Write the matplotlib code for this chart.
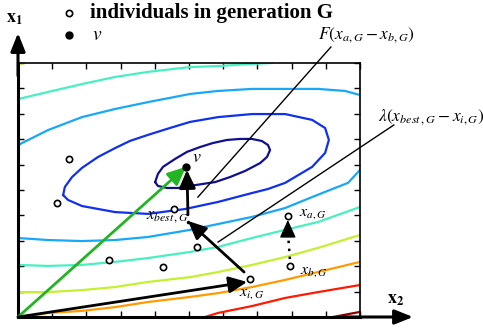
import matplotlib
# no display in the sandbox
matplotlib.use('agg')
import matplotlib.pyplot as plt

plt.rcParams['mathtext.fontset'] = 'stix'
plt.rcParams['font.family'] = 'Liberation Serif'

# contour lines of the fitness landscape (x2, x1)
navy_x = [4.01, 4.09, 4.24, 4.59, 4.94, 5.32, 5.70, 6.11, 6.49, 6.84, 7.13, 7.31,
          7.37, 7.28, 7.08, 6.64, 6.20, 5.76, 5.41, 5.03, 4.68, 4.36, 4.09, 4.01]
navy_y = [5.31, 5.63, 5.91, 6.22, 6.50, 6.69, 6.85, 6.97, 7.01, 7.01, 6.93, 6.77,
          6.57, 6.30, 6.06, 5.75, 5.51, 5.31, 5.24, 5.16, 5.08, 5.08, 5.16, 5.31]
blue_x = [1.32, 1.37, 1.58, 1.87, 2.34, 2.84, 3.27, 3.80, 4.44, 5.03, 5.85, 6.84, 7.81, 8.60,
          8.98, 9.09, 8.98, 8.60, 7.81, 7.31, 6.84, 5.85, 4.88, 3.80, 2.84, 1.87, 1.46, 1.32]
blue_y = [4.80, 5.12, 5.51, 5.87, 6.30, 6.65, 6.93, 7.17, 7.44, 7.68, 7.87, 7.99, 7.99, 7.76,
          7.44, 6.97, 6.46, 5.91, 5.28, 5.04, 4.88, 4.53, 4.25, 4.06, 4.13, 4.37, 4.61, 4.80]
sky_top_x = [0, 0.88, 1.87, 2.84, 3.80, 5.03, 5.85, 6.84, 7.81, 8.77, 9.56, 10]
sky_top_y = [6.77, 7.36, 7.87, 8.19, 8.46, 8.78, 8.90, 8.98, 8.98, 8.98, 8.90, 8.74]
sky_low_x = [0, 0.88, 1.87, 2.84, 3.80, 5.03, 5.85, 6.84, 7.81, 8.54, 9.12, 9.65, 10]
sky_low_y = [3.11, 3.03, 2.99, 3.03, 3.15, 3.43, 3.66, 3.94, 4.29, 4.69, 5.00, 5.28, 5.79]
aqua_top_x = [0, 0.88, 1.87, 2.84, 3.80, 5.03, 5.85, 6.78, 7.43]
aqua_top_y = [8.58, 8.86, 9.17, 9.45, 9.65, 9.84, 9.88, 9.96, 10]
aqua_low_x = [0, 0.88, 1.87, 2.84, 3.80, 5.03, 5.85, 6.84, 7.81, 8.77, 9.50, 10]
aqua_low_y = [2.05, 2.01, 2.05, 2.17, 2.32, 2.56, 2.76, 3.11, 3.43, 3.74, 4.09, 4.33]
lime_top_x = [0, 0.15]
lime_top_y = [9.94, 10]
lime_low_x = [0, 0.88, 1.87, 2.84, 3.80, 5.03, 5.85, 6.84, 7.81, 8.77, 10]
lime_low_y = [0.98, 0.98, 1.06, 1.18, 1.38, 1.57, 1.77, 2.05, 2.36, 2.72, 3.23]
orange_x = [0.20, 0.88, 1.87, 2.84, 3.80, 5.03, 5.85, 6.84, 7.81, 8.77, 10]
orange_y = [0, 0.16, 0.24, 0.39, 0.59, 0.79, 0.94, 1.18, 1.46, 1.77, 2.17]
red_x = [5.47, 5.85, 6.84, 7.81, 8.77, 10]
red_y = [0, 0.16, 0.43, 0.75, 0.98, 1.26]
darkred_x = [9.21, 10]
darkred_y = [0, 0.20]

# individuals of generation G (open circles): 6 others, then x_i, x_a, x_b
ind_x = [1.49, 1.14, 4.56, 5.23, 2.66, 4.24, 6.78, 7.89, 7.95]
ind_y = [6.22, 4.49, 4.25, 2.76, 2.24, 1.97, 1.50, 3.98, 2.01]
x_i = (6.78, 1.50)
x_a = (7.89, 3.98)
x_b = (7.95, 2.01)
x_best = (4.97, 3.74)
v = (4.91, 5.91)

HEAD = '-|>,head_length=0.55,head_width=0.25'


def arrow(ax, start, end, color='k', lw=2.0, head=HEAD):
    """
    Draw an arrow from start to end in data coordinates
    """
    ax.annotate('', xy=end, xytext=start, annotation_clip=False,
                arrowprops=dict(arrowstyle=head, color=color, lw=lw,
                                mutation_scale=20, shrinkA=0, shrinkB=0))


def draw_chart(plot_name):
    fig = plt.figure(figsize=(4.83, 3.28), dpi=100)
    ax = fig.add_axes([18 / 483, 11 / 328, 342 / 483, 254 / 328])
    ax.set_xlim(0, 10)
    ax.set_ylim(0, 10)

    curves = [
        (navy_x, navy_y, '#10108f'), (blue_x, blue_y, '#1030f0'),
        (sky_top_x, sky_top_y, '#18a8f8'), (sky_low_x, sky_low_y, '#18a8f8'),
        (aqua_top_x, aqua_top_y, '#48f0c0'), (aqua_low_x, aqua_low_y, '#48f0c0'),
        (lime_top_x, lime_top_y, '#c4f030'), (lime_low_x, lime_low_y, '#c4f030'),
        (orange_x, orange_y, '#ff9a00'), (red_x, red_y, '#ff1a00'),
        (darkred_x, darkred_y, '#8b0000'),
    ]
    for xs, ys, c in curves:
        ax.plot(xs, ys, color=c, lw=1.6, solid_capstyle='round')

    # frame and ticks
    for side in ['left', 'bottom']:
        ax.spines[side].set_linewidth(2.2)
    for side in ['top', 'right']:
        ax.spines[side].set_linewidth(1.2)
    ax.set_xticks(range(11))
    ax.set_yticks(range(11))
    ax.tick_params(direction='in', length=4, width=1, top=True, right=True,
                   labelbottom=False, labelleft=False)

    # axis arrows
    arrow(ax, (0, 9.5), (0, 11.18), lw=2.2, head='-|>,head_length=0.55,head_width=0.22')
    arrow(ax, (9.5, 0), (11.55, 0), lw=2.2, head='-|>,head_length=0.55,head_width=0.22')

    # vectors
    arrow(ax, (0, 0), v, color='#22b422')
    arrow(ax, (0, 0), (6.70, 1.38))
    arrow(ax, (6.61, 1.77), (4.97, 3.78))
    arrow(ax, (4.97, 4.02), (4.94, 5.79))
    ax.plot([x_b[0], x_a[0]], [2.28, 3.4], color='k', lw=1.8, ls=(0, (1, 2.2)))
    arrow(ax, (x_a[0], 3.4), (x_a[0], 3.82), lw=1.0)

    # leader lines
    ax.plot([9.15, 5.26], [10.63, 4.72], color='k', lw=1.0, clip_on=False)
    ax.plot([10.99, 5.85], [7.56, 2.95], color='k', lw=1.0, clip_on=False)

    ax.plot(ind_x, ind_y, 'o', mfc='white', mec='k', ms=4.5, mew=1.2, zorder=5)
    ax.plot(*v, 'o', color='k', ms=5, zorder=6)
    ax.plot(*x_best, 'o', color='k', ms=1.5, zorder=6)

    # point labels
    ax.text(5.08, 6.28, r'$v$', fontsize=13, ha='left', va='center')
    ax.text(3.74, 3.92, r'$x_{best\,,G}$', fontsize=12, ha='left', va='center')
    ax.text(8.22, 4.1, r'$x_{a,G}$', fontsize=11.5, ha='left', va='center')
    ax.text(8.25, 1.8, r'$x_{b,G}$', fontsize=11.5, ha='left', va='center')
    ax.text(6.47, 0.95, r'$x_{i,G}$', fontsize=11.5, ha='left', va='center')
    ax.text(10.18, 11.1, r'$F(x_{a,G}-x_{b,G})$', fontsize=12.5, ha='center', va='center')
    ax.text(12.08, 7.87, r'$\lambda(x_{best\,,G}-x_{i,G})$', fontsize=12.5, ha='center', va='center')

    # axis names
    ax.text(-0.1, 11.75, r'$\mathbf{x}_{\mathbf{1}}$', fontsize=13, ha='center', va='center')
    ax.text(11.05, 0.67, r'$\mathbf{x}_{\mathbf{2}}$', fontsize=13, ha='center', va='center')

    # key at the top
    ax.plot(1.49, 11.97, 'o', mfc='white', mec='k', ms=4.5, mew=1.2, clip_on=False)
    ax.plot(1.49, 11.10, 'o', color='k', ms=5, clip_on=False)
    ax.text(2.11, 11.97, 'individuals in generation G', fontsize=15, fontweight='bold',
            ha='left', va='center')
    ax.text(2.15, 11.1, r'$v$', fontsize=14, ha='left', va='center')

    fig.savefig(plot_name, dpi=100)


draw_chart('out.png')
